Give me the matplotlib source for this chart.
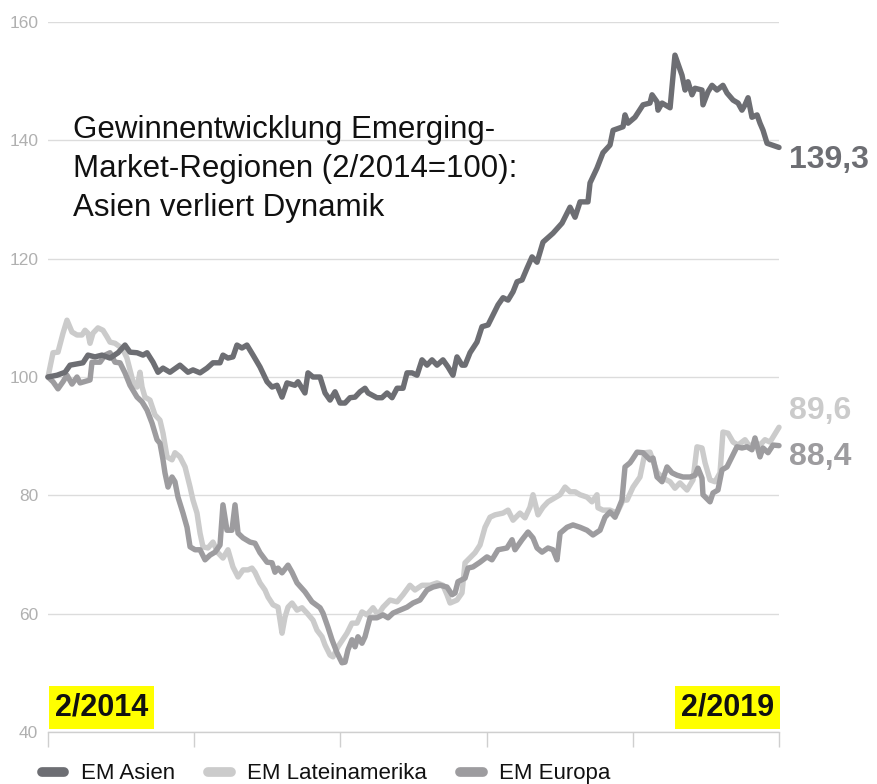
import matplotlib
matplotlib.use("Agg")
import matplotlib.pyplot as plt
from matplotlib.lines import Line2D
from matplotlib import font_manager as fm

# ---- data (months since 2/2014, index 2/2014 = 100) ----
asien_t = [0.0, 0.74, 1.40, 1.81, 2.87, 3.28, 3.86, 4.43, 5.09, 5.75, 6.32, 6.73, 7.31, 7.80, 8.13,
           8.62, 9.03, 9.44, 10.01, 10.83, 11.49, 11.90, 12.48, 13.05, 13.54, 14.12, 14.36, 14.77,
           15.18, 15.51, 15.92, 16.33, 16.83, 17.40, 17.98, 18.39, 18.80, 19.21, 19.62, 20.27, 20.52,
           21.09, 21.34, 21.75, 22.33, 22.74, 23.15, 23.56, 23.97, 24.38, 24.79, 25.20, 25.61, 26.02,
           26.27, 27.00, 27.41, 27.83, 28.24, 28.65, 29.14, 29.47, 29.88, 30.29, 30.70, 31.11, 31.52,
           31.93, 32.42, 32.83, 33.24, 33.57, 33.98, 34.23, 34.64, 35.21, 35.62, 36.12, 36.53, 36.94,
           37.35, 37.76, 38.17, 38.50, 38.91, 39.32, 39.73, 40.14, 40.63, 41.45, 42.19, 42.85, 43.26,
           43.67, 44.32, 44.49, 45.06, 45.55, 46.13, 46.38, 47.20, 47.36, 47.61, 48.18, 48.84, 49.41,
           49.58, 49.99, 50.07, 50.40, 51.06, 51.46, 52.04, 52.29, 52.53, 52.86, 53.11, 53.68, 53.76,
           54.17, 54.50, 54.91, 55.40, 55.73, 56.23, 56.64, 56.96, 57.21, 57.46, 57.78, 58.20, 58.44,
           58.69, 59.02, 59.43, 60.0]
asien_v = [100.0, 100.3, 100.8, 102.0, 102.4, 103.7, 103.4, 103.7, 103.2, 104.1, 105.4, 104.2, 104.1,
           103.7, 104.1, 102.5, 100.8, 101.5, 100.8, 102.0, 100.8, 101.2, 100.7, 101.5, 102.4, 102.4,
           103.7, 103.2, 103.4, 105.4, 104.9, 105.4, 103.7, 101.7, 99.2, 98.3, 98.6, 96.6, 99.0, 98.6,
           99.2, 97.3, 100.7, 100.0, 100.0, 97.3, 96.1, 97.5, 95.6, 95.6, 96.5, 96.6, 97.5, 98.1, 97.3,
           96.5, 96.5, 97.3, 96.5, 98.1, 98.1, 100.7, 100.7, 100.3, 102.9, 102.0, 102.9, 102.0, 102.9,
           101.7, 100.3, 103.4, 102.0, 102.0, 104.1, 105.9, 108.5, 108.8, 110.5, 112.2, 113.4, 113.0,
           114.4, 116.1, 116.4, 118.4, 120.3, 119.4, 122.8, 124.3, 126.0, 128.7, 127.0, 129.6, 129.6,
           132.8, 135.3, 137.9, 139.2, 141.7, 142.3, 144.3, 142.9, 143.9, 146.0, 146.3, 147.7, 146.5,
           145.1, 146.3, 145.5, 154.4, 151.0, 148.5, 149.9, 147.7, 148.8, 148.5, 146.0, 148.2, 149.3,
           148.5, 149.3, 148.0, 146.8, 146.3, 145.1, 146.0, 147.2, 143.9, 144.3, 142.9, 141.7, 139.5,
           139.2, 138.8]

latam_t = [0.0, 0.41, 0.82, 1.23, 1.56, 1.97, 2.38, 2.79, 3.04, 3.28, 3.45, 3.69, 4.10, 4.51, 4.84,
           5.09, 5.50, 5.91, 6.16, 6.48, 6.73, 6.98, 7.31, 7.55, 7.72, 7.96, 8.37, 8.78, 9.19, 9.44,
           9.77, 10.18, 10.42, 10.83, 11.25, 11.66, 11.90, 12.23, 12.48, 12.72, 13.13, 13.54, 13.95,
           14.36, 14.77, 15.18, 15.60, 16.01, 16.42, 16.74, 16.99, 17.40, 17.81, 18.06, 18.47, 18.88,
           19.21, 19.45, 19.70, 20.03, 20.44, 20.85, 21.26, 21.75, 22.08, 22.49, 22.74, 23.15, 23.39,
           23.80, 24.54, 24.95, 25.36, 25.77, 26.18, 26.68, 27.09, 27.50, 28.07, 28.65, 29.14, 29.71,
           30.12, 30.70, 31.36, 31.93, 32.42, 32.75, 33.00, 33.57, 33.98, 34.23, 34.47, 35.05, 35.46,
           35.87, 36.28, 36.69, 37.35, 37.76, 38.17, 38.74, 39.15, 39.56, 39.81, 40.22, 40.63, 41.04,
           41.61, 42.03, 42.44, 42.85, 43.26, 43.67, 44.24, 44.65, 45.06, 45.14, 45.55, 46.13, 46.70,
           47.20, 47.53, 48.02, 48.59, 49.00, 49.41, 49.99, 50.48, 51.06, 51.46, 51.87, 52.45, 52.94,
           53.27, 53.68, 53.93, 54.34, 54.75, 55.16, 55.40, 55.81, 56.23, 56.64, 57.21, 57.62, 58.03,
           58.44, 58.85, 59.26, 60.0]
latam_v = [100.0, 104.1, 104.2, 107.4, 109.6, 107.6, 107.1, 107.1, 107.9, 107.4, 105.7, 107.4, 108.3,
           107.9, 106.8, 105.9, 105.7, 105.1, 104.6, 103.2, 101.2, 99.2, 98.3, 100.8, 98.3, 96.6, 96.1,
           93.6, 92.7, 90.5, 86.5, 86.0, 87.2, 86.5, 84.8, 81.4, 79.2, 77.0, 73.6, 71.3, 71.1, 72.1,
           70.3, 69.4, 70.8, 67.9, 66.2, 67.4, 67.4, 67.7, 67.0, 65.2, 64.0, 62.8, 61.5, 61.1, 56.7,
           59.4, 61.1, 61.8, 60.6, 61.0, 60.1, 58.9, 57.2, 56.1, 54.7, 53.0, 52.7, 54.4, 56.7, 58.4,
           58.4, 60.3, 59.8, 61.0, 59.8, 61.1, 62.3, 62.0, 63.2, 64.8, 64.0, 64.8, 64.8, 65.2, 64.8,
           63.2, 61.8, 62.3, 63.5, 68.6, 69.1, 70.3, 71.6, 74.6, 76.3, 76.7, 77.0, 77.5, 75.8, 77.0,
           76.2, 78.0, 80.1, 76.7, 78.0, 78.9, 79.6, 80.1, 81.4, 80.6, 80.6, 80.1, 79.7, 78.9, 80.1,
           77.9, 77.5, 77.5, 77.0, 79.2, 79.2, 81.4, 83.1, 87.2, 87.3, 83.9, 82.9, 82.3, 81.2, 82.1,
           80.9, 82.6, 88.2, 88.0, 85.5, 82.6, 82.3, 83.8, 90.7, 90.5, 89.0, 88.5, 89.4, 88.2, 89.0,
           88.5, 89.4, 89.0, 91.5]

europa_t = [0.0, 0.41, 0.82, 1.23, 1.56, 1.97, 2.38, 2.63, 3.45, 3.61, 4.27, 4.68, 5.09, 5.50, 5.91,
            6.32, 6.73, 7.31, 7.72, 8.13, 8.54, 8.95, 9.19, 9.44, 9.60, 9.85, 10.18, 10.42, 10.67,
            11.08, 11.41, 11.66, 12.07, 12.48, 12.89, 13.30, 13.71, 14.12, 14.36, 14.69, 15.10, 15.35,
            15.60, 16.01, 16.58, 16.99, 17.40, 17.98, 18.39, 18.63, 18.88, 19.21, 19.70, 20.03, 20.44,
            21.09, 21.67, 22.33, 22.57, 22.98, 23.31, 23.72, 24.13, 24.38, 24.62, 24.95, 25.20, 25.44,
            25.77, 26.02, 26.43, 27.00, 27.50, 27.91, 28.32, 28.89, 29.47, 29.96, 30.53, 31.11, 31.60,
            32.18, 32.75, 33.16, 33.41, 33.65, 34.23, 34.47, 34.88, 35.46, 36.03, 36.44, 36.94, 37.67,
            38.09, 38.33, 38.91, 39.40, 39.81, 40.14, 40.55, 41.04, 41.45, 41.78, 42.03, 42.60, 43.09,
            43.67, 44.24, 44.73, 45.31, 45.72, 46.13, 46.54, 47.11, 47.36, 47.77, 47.94, 48.35, 48.84,
            49.41, 49.66, 49.99, 50.40, 50.81, 51.22, 51.63, 52.12, 52.70, 53.11, 53.35, 53.68, 53.76,
            54.34, 54.58, 54.99, 55.32, 55.73, 56.14, 56.55, 56.96, 57.37, 57.78, 58.03, 58.44, 58.69,
            59.10, 59.51, 60.0]
europa_v = [100.0, 99.2, 98.0, 99.2, 100.3, 98.8, 100.0, 99.0, 99.5, 102.5, 102.5, 103.7, 104.1, 102.5,
            102.4, 100.7, 98.6, 96.6, 95.8, 94.4, 92.2, 89.4, 88.8, 86.0, 83.8, 81.4, 83.1, 82.3, 79.7,
            77.0, 74.6, 71.3, 70.8, 70.8, 69.1, 69.9, 70.4, 71.6, 78.4, 74.1, 74.1, 78.4, 73.6, 72.8,
            72.1, 71.9, 70.3, 68.7, 68.6, 67.0, 67.7, 66.9, 68.2, 67.0, 65.2, 63.7, 62.0, 61.0, 60.1,
            57.7, 55.6, 53.4, 51.7, 51.8, 53.9, 55.6, 54.4, 56.1, 55.0, 56.1, 59.3, 59.3, 59.8, 59.3,
            60.1, 60.6, 61.1, 61.8, 62.3, 64.0, 64.5, 64.8, 64.5, 63.2, 63.5, 65.4, 66.0, 67.7, 67.9,
            68.7, 69.6, 69.1, 70.8, 71.1, 72.5, 70.8, 72.5, 73.8, 72.8, 71.1, 70.4, 71.1, 70.8, 69.1,
            73.6, 74.6, 75.0, 74.6, 74.1, 73.3, 74.1, 76.3, 77.2, 76.3, 79.2, 84.8, 85.5, 86.0, 87.3,
            87.2, 86.0, 86.3, 83.1, 82.3, 84.8, 83.8, 83.4, 83.1, 83.1, 83.4, 84.6, 82.9, 80.1, 78.9,
            80.4, 80.9, 84.3, 84.8, 86.5, 88.2, 88.0, 88.2, 87.7, 89.7, 86.5, 88.0, 87.2, 88.5, 88.4]

series_names = ["EM Asien", "EM Lateinamerika", "EM Europa"]
end_labels = ["139,3", "89,6", "88,4"]
y_ticks = [40, 60, 80, 100, 120, 140, 160]
x_ticks = [0, 12, 24, 36, 48, 60]
period_labels = ["2/2014", "2/2019"]
title = "Gewinnentwicklung Emerging-\nMarket-Regionen (2/2014=100):\nAsien verliert Dynamik"

c_asien = "#6d6e73"
c_latam = "#cbcbcb"
c_europa = "#9d9c9f"

avail = {f.name for f in fm.fontManager.ttflist}
narrow = ["Liberation Sans Narrow", "Liberation Sans"] if "Liberation Sans Narrow" in avail else ["Liberation Sans"]
plt.rcParams['font.family'] = ["Liberation Sans", "DejaVu Sans"]

fig = plt.figure(figsize=(8.78, 7.84), dpi=100)
ax = fig.add_axes([48 / 878, 52 / 784, 731 / 878, 710 / 784])

lw = 3.9
kw = dict(lw=lw, solid_joinstyle="round", solid_capstyle="round", clip_on=False)
ax.plot(latam_t, latam_v, color=c_latam, zorder=3, **kw)
ax.plot(europa_t, europa_v, color=c_europa, zorder=4, **kw)
ax.plot(asien_t, asien_v, color=c_asien, zorder=5, **kw)

ax.set_xlim(0, 60)
ax.set_ylim(40, 160)
ax.set_yticks(y_ticks)
ax.set_yticklabels([str(v) for v in y_ticks], family=narrow, fontsize=12.5, color="#b0b0b0")
ax.set_xticks(x_ticks)
ax.set_xticklabels([])
ax.tick_params(axis="y", length=0, pad=7)
ax.tick_params(axis="x", length=11, width=1, color="#cfcfcf", direction="out")
for s in ["top", "right", "left"]:
    ax.spines[s].set_visible(False)
ax.spines["bottom"].set_color("#cfcfcf")
ax.spines["bottom"].set_linewidth(1)
ax.grid(axis="y", color="#dcdcdc", lw=1)
ax.set_axisbelow(True)

# title
ax.text(0.034, 0.869, title, transform=ax.transAxes, fontsize=22.5, color="#111111",
        va="top", ha="left", linespacing=1.4, zorder=6)

# end labels
ends = [(c_asien, end_labels[0], 136.6), (c_latam, end_labels[1], 94.3),
        (c_europa, end_labels[2], 86.4)]
for c, lab, ypos in ends:
    ax.text(60.8, ypos, lab, fontsize=23, fontweight="bold", color=c, family=narrow,
            ha="left", va="center", clip_on=False)

# period boxes
box = dict(boxstyle="square,pad=0.2", fc="#ffff00", ec="none")
ax.text(0.55, 41.6, period_labels[0], fontsize=22, fontweight="bold", family=narrow, color="#111111",
        ha="left", va="bottom", bbox=box, zorder=7)
ax.text(59.6, 41.6, period_labels[1], fontsize=22, fontweight="bold", family=narrow, color="#111111",
        ha="right", va="bottom", bbox=box, zorder=7)

handles = [Line2D([], [], color=c, lw=7, solid_capstyle="round") for c in (c_asien, c_latam, c_europa)]
leg = fig.legend(handles, series_names, loc="lower left", bbox_to_anchor=(0.025, -0.026), ncol=3,
                 frameon=False, handlelength=1.0, handletextpad=0.75, columnspacing=1.5,
                 prop={"family": narrow, "size": 16})
for t in leg.get_texts():
    t.set_color("#111111")

fig.savefig("out.png", dpi=100)
